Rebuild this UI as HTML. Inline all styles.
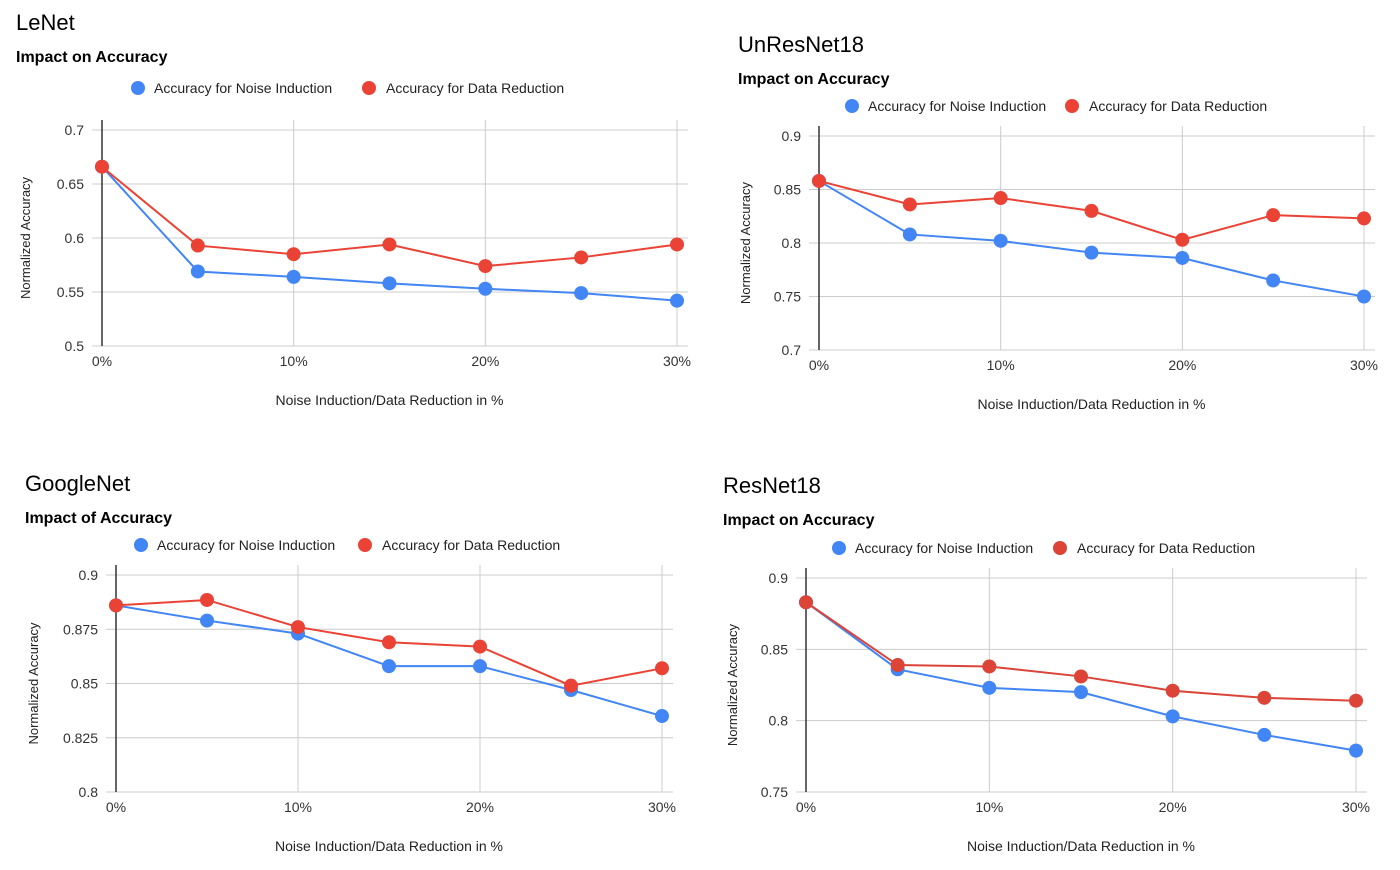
<!DOCTYPE html>
<html><head><meta charset="utf-8"><style>
body{margin:0;background:#fff;width:1400px;height:870px;overflow:hidden;font-family:"Liberation Sans",Arial,sans-serif}
svg{position:absolute;left:0;top:0}
</style></head><body>
<svg id="s" width="1400" height="870"></svg>
<script>
const xCats=[0,5,10,15,20,25,30];
const xTickLabels=["0%","10%","20%","30%"];
const xTickVals=[0,10,20,30];
const lenetNoise=[0.666,0.569,0.564,0.558,0.553,0.549,0.542];
const lenetData=[0.666,0.593,0.585,0.594,0.574,0.582,0.594];
const lenetTicks=[0.5,0.55,0.6,0.65,0.7];
const lenetTickLabels=["0.5","0.55","0.6","0.65","0.7"];
const unresNoise=[0.858,0.808,0.802,0.791,0.786,0.765,0.750];
const unresData=[0.858,0.836,0.842,0.830,0.803,0.826,0.823];
const unresTicks=[0.7,0.75,0.8,0.85,0.9];
const unresTickLabels=["0.7","0.75","0.8","0.85","0.9"];
const googNoise=[0.886,0.879,0.873,0.858,0.858,0.847,0.835];
const googData=[0.886,0.8885,0.876,0.869,0.867,0.849,0.857];
const googTicks=[0.8,0.825,0.85,0.875,0.9];
const googTickLabels=["0.8","0.825","0.85","0.875","0.9"];
const resNoise=[0.883,0.836,0.823,0.820,0.803,0.790,0.779];
const resData=[0.883,0.839,0.838,0.831,0.821,0.816,0.814];
const resTicks=[0.75,0.8,0.85,0.9];
const resTickLabels=["0.75","0.8","0.85","0.9"];

const NS="http://www.w3.org/2000/svg";
const svg=document.getElementById('s');
function mk(tag,attrs,parent,text){const e=document.createElementNS(NS,tag);for(const k in attrs)e.setAttribute(k,attrs[k]);if(text!==undefined)e.textContent=text;(parent||svg).appendChild(e);return e;}

function chart(c){
  const g=mk('g',{});
  
  
  const xs=v=>c.x0+(v-xCats[0])/(xCats[xCats.length-1]-xCats[0])*(c.x1-c.x0);
  const ymin=c.ticks[0],ymax=c.ticks[c.ticks.length-1];
  const ys=v=>c.yb+(v-ymin)/(ymax-ymin)*(c.yt-c.yb);
  let t=mk('text',{x:c.tx,y:c.ty,'font-size':22,fill:'#000'},g,c.title);
  
  t=mk('text',{x:c.tx,y:c.ty+32,'font-size':16,'font-weight':'bold',fill:'#000'},g,c.sub);
  
  // legend
  const l1=mk('g',{},g);
  mk('circle',{cx:c.lb,cy:c.ly,r:7,fill:'#4285f4'},l1);
  mk('text',{x:c.lb+16,y:c.ly+5,'font-size':14,fill:'#222'},l1,'Accuracy for Noise Induction');
  const l2=mk('g',{},g);
  mk('circle',{cx:c.lr,cy:c.ly,r:7,fill:c.red},l2);
  mk('text',{x:c.lr+17,y:c.ly+5,'font-size':14,fill:'#222'},l2,'Accuracy for Data Reduction');
  // grid
  c.ticks.forEach((v,i)=>{
    const gl=mk('line',{x1:c.x0-10,x2:c.x1+11,y1:ys(v),y2:ys(v),stroke:'#ccc','stroke-width':1},g);
    
    const tl=mk('text',{x:c.x0-18,y:ys(v)+5,'font-size':14,fill:'#333','text-anchor':'end'},g,c.labels[i]);
    
  });
  xTickVals.forEach((v,i)=>{
    if(v!==0){const gl=mk('line',{x1:xs(v),x2:xs(v),y1:c.yt-10,y2:c.yb,stroke:'#ccc','stroke-width':1},g);
    }
    const tl=mk('text',{x:xs(v),y:c.yb+20,'font-size':14,fill:'#333','text-anchor':'middle'},g,xTickLabels[i]);
    
  });
  const ax=mk('line',{x1:xs(0),x2:xs(0),y1:c.yt-10,y2:c.yb,stroke:'#333','stroke-width':1.5},g);
  
  t=mk('text',{x:(c.x0+c.x1)/2,y:c.yb+59,'font-size':14,fill:'#222','text-anchor':'middle'},g,'Noise Induction/Data Reduction in %');
  
  const yc=(c.yt+c.yb)/2;
  t=mk('text',{x:c.yx,y:yc,'font-size':13,fill:'#222','text-anchor':'middle',transform:`rotate(-90 ${c.yx} ${yc})`},g,'Normalized Accuracy');
  
  [[c.noise,'#4285f4','noise'],[c.data,c.red,'data']].forEach(([arr,col,nm])=>{
    const p=mk('polyline',{points:arr.map((v,i)=>xs(xCats[i])+','+ys(v)).join(' '),fill:'none',stroke:col,'stroke-width':2},g);
    
    arr.forEach((v,i)=>{
      const pt=mk('circle',{cx:xs(xCats[i]),cy:ys(v),r:7,fill:col},g);
      
    });
  });
}
chart({id:'lenet',title:'LeNet',sub:'Impact on Accuracy',tx:16,ty:30,lb:138,lr:369,ly:88,x0:102,x1:677,yt:130,yb:346,yx:30,ticks:lenetTicks,labels:lenetTickLabels,noise:lenetNoise,data:lenetData,red:'#ea4335'});
chart({id:'unresnet18',title:'UnResNet18',sub:'Impact on Accuracy',tx:738,ty:52,lb:852,lr:1072,ly:106,x0:819,x1:1364,yt:136,yb:350,yx:750,ticks:unresTicks,labels:unresTickLabels,noise:unresNoise,data:unresData,red:'#ea4335'});
chart({id:'googlenet',title:'GoogleNet',sub:'Impact of Accuracy',tx:25,ty:491,lb:141,lr:365,ly:545,x0:116,x1:662,yt:575,yb:792,yx:38,ticks:googTicks,labels:googTickLabels,noise:googNoise,data:googData,red:'#ea4335'});
chart({id:'resnet18',title:'ResNet18',sub:'Impact on Accuracy',tx:723,ty:493,lb:839,lr:1060,ly:548,x0:806,x1:1356,yt:578,yb:792,yx:737,ticks:resTicks,labels:resTickLabels,noise:resNoise,data:resData,red:'#db4437'});
</script>
</body></html>
